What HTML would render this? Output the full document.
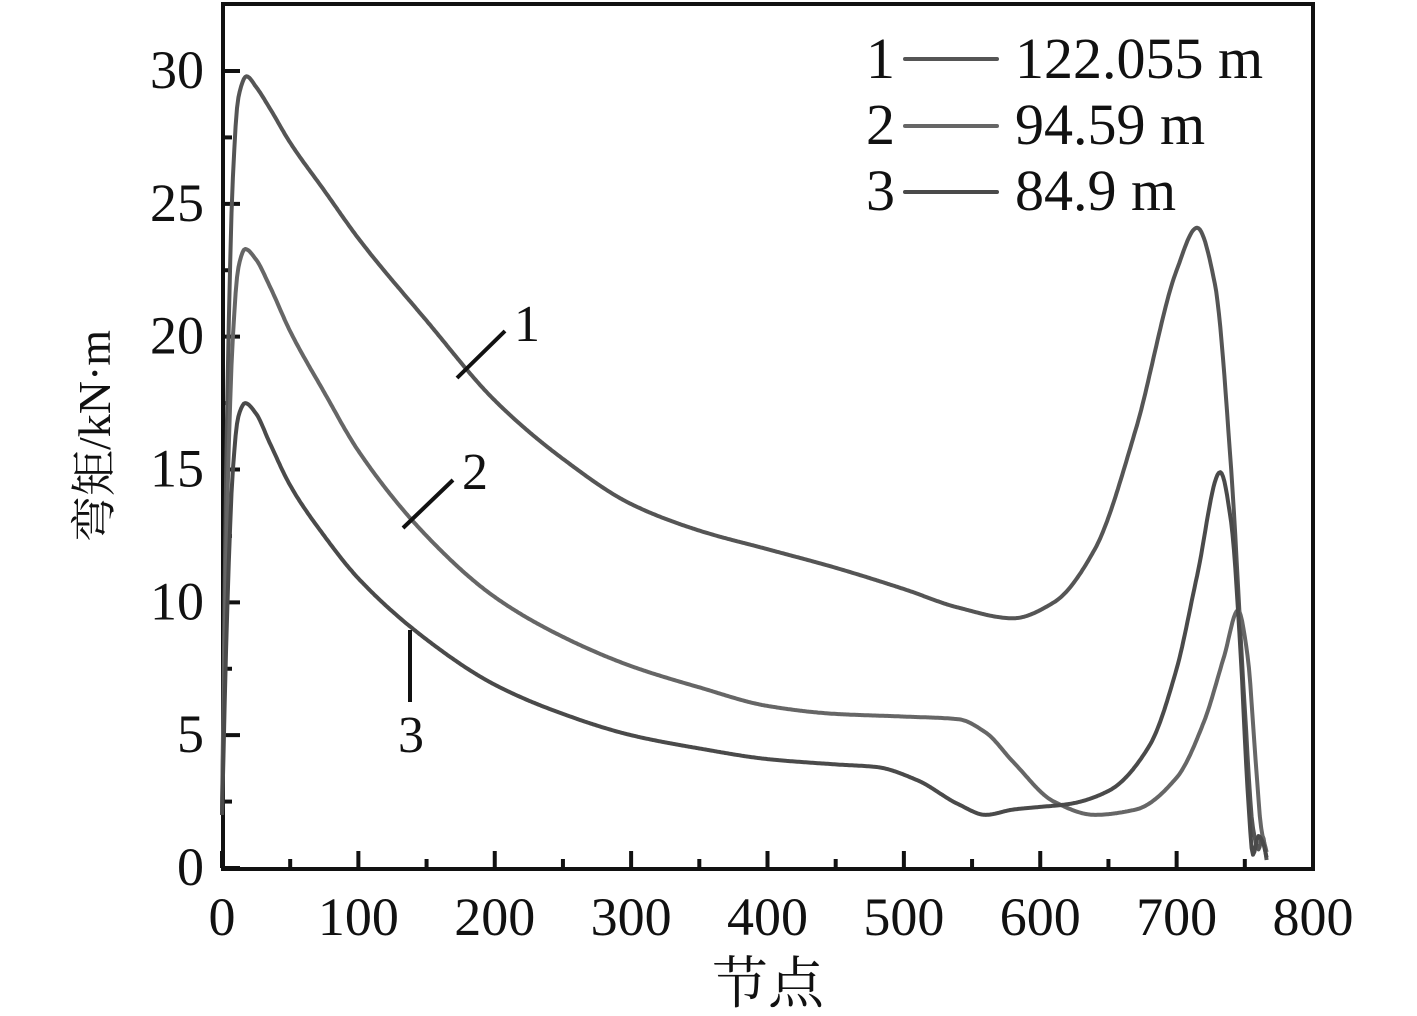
<!DOCTYPE html>
<html><head><meta charset="utf-8">
<style>
html,body{margin:0;padding:0;background:#fff;}
svg{display:block;font-family:"Liberation Serif","Noto Serif CJK SC",serif;}
</style></head>
<body>
<svg id="chart" width="1417" height="1016" viewBox="0 0 1417 1016" xmlns="http://www.w3.org/2000/svg">
<g id="axes"></g>
<g id="series"></g>
<g font-size="58" fill="#111">
  <text x="866" y="78">1</text>
  <line x1="905" y1="59" x2="997" y2="59" stroke="#555" stroke-width="4" stroke-linecap="round"/>
  <text x="1015" y="78">122.055 m</text>
  <text x="866" y="144">2</text>
  <line x1="905" y1="126" x2="997" y2="126" stroke="#666" stroke-width="4" stroke-linecap="round"/>
  <text x="1015" y="144">94.59 m</text>
  <text x="866" y="210">3</text>
  <line x1="905" y1="192" x2="997" y2="192" stroke="#4a4a4a" stroke-width="4" stroke-linecap="round"/>
  <text x="1015" y="210">84.9 m</text>
</g>
<g font-size="52" fill="#111" stroke="#111">
  <line x1="457" y1="378" x2="505" y2="331" stroke-width="4"/>
  <text x="514" y="341" stroke="none">1</text>
  <line x1="403" y1="528" x2="453" y2="480" stroke-width="4"/>
  <text x="462" y="489" stroke="none">2</text>
  <line x1="410" y1="630" x2="410" y2="702" stroke-width="4"/>
  <text x="398" y="752" stroke="none">3</text>
</g>
<text x="768" y="1003" font-size="56" text-anchor="middle" fill="#111">节点</text>
<text transform="translate(110,436) rotate(-90)" font-size="46" text-anchor="middle" fill="#111">弯矩/kN·m</text>
</svg>
<script>
const xTicks=[0,100,200,300,400,500,600,700,800];
const yTicks=[0,5,10,15,20,25,30];
const s1x=[0,4,8,12,18,25,35,50,75,100,150,200,250,300,350,400,450,500,540,580,610,640,670,700,715,728,740,750,756,760,763,766];
const s1y=[2,18,26,29,29.8,29.4,28.6,27.3,25.5,23.7,20.6,17.6,15.4,13.7,12.7,12.0,11.3,10.5,9.8,9.4,10.0,12.0,16.5,22.5,24.1,22,15,6,1.5,0.7,1.2,0.3];
const s2x=[0,4,8,12,17,25,35,50,75,100,150,200,250,300,350,400,450,500,540,560,580,610,640,670,700,720,735,745,752,758,762,766];
const s2y=[2,14,20,22.6,23.3,22.9,21.9,20.2,17.9,15.7,12.5,10.2,8.7,7.6,6.8,6.1,5.8,5.7,5.6,5.1,4.0,2.5,2.0,2.2,3.4,5.5,8.0,9.7,8,4,1.5,0.6];
const s3x=[0,4,8,12,17,25,35,50,75,100,150,200,250,300,350,400,450,480,510,540,560,580,600,620,650,680,700,715,732,740,747,752,756,760,763,766];
const s3y=[2,10,15,17,17.5,17.1,16.0,14.4,12.5,10.9,8.6,6.9,5.8,5.0,4.5,4.1,3.9,3.8,3.3,2.4,2.0,2.2,2.3,2.4,2.9,4.6,7.5,11,14.9,13,8,3,0.5,1.2,1.0,0.4];

const X0=222,X1=1313,Y0=868,Y1=71;
const xs=v=>X0+(v/800)*(X1-X0);
const ys=v=>Y0-(v/30)*(Y0-Y1);
const NS="http://www.w3.org/2000/svg";
const axes=document.getElementById('axes');
const series=document.getElementById('series');
function mk(tag,attrs,parent){const e=document.createElementNS(NS,tag);for(const k in attrs)e.setAttribute(k,attrs[k]);parent.appendChild(e);return e;}

const frame=mk('rect',{x:223,y:4,width:1090,height:865,fill:'none',stroke:'#111','stroke-width':4},axes);



for(let v=0;v<=800;v+=50){
  const major=v%100===0;
  const t=mk('line',{x1:xs(v),x2:xs(v),y1:868,y2:868-(major?17:9),stroke:'#111','stroke-width':4},axes);
  
  
}
xTicks.forEach(v=>{
  const t=mk('text',{x:xs(v),y:935,'font-size':54,'text-anchor':'middle',fill:'#111'},axes);
  t.textContent=v;
  
  
});
for(let v=0;v<=30;v+=2.5){
  const major=v%5===0;
  const t=mk('line',{x1:223,x2:223+(major?17:9),y1:ys(v),y2:ys(v),stroke:'#111','stroke-width':4},axes);
  
  
}
yTicks.forEach(v=>{
  const t=mk('text',{x:204,y:ys(v)+17,'font-size':54,'text-anchor':'end',fill:'#111'},axes);
  t.textContent=v;
  
  
});

// monotone cubic (Fritsch-Carlson) in data space, sampled densely
function pathFor(ax,ay){
  const n=ax.length,d=[],m=new Array(n);
  for(let i=0;i<n-1;i++)d.push((ay[i+1]-ay[i])/(ax[i+1]-ax[i]));
  m[0]=d[0];m[n-1]=d[n-2];
  for(let i=1;i<n-1;i++){
    if(d[i-1]*d[i]<=0)m[i]=0;
    else{const w1=2*(ax[i+1]-ax[i])+(ax[i]-ax[i-1]),w2=(ax[i+1]-ax[i])+2*(ax[i]-ax[i-1]);m[i]=(w1+w2)/(w1/d[i-1]+w2/d[i]);}
  }
  let s='M'+xs(ax[0]).toFixed(1)+','+ys(ay[0]).toFixed(1);
  for(let i=0;i<n-1;i++){
    const h=ax[i+1]-ax[i],steps=Math.max(4,Math.ceil(h));
    for(let k=1;k<=steps;k++){
      const t=k/steps,t2=t*t,t3=t2*t;
      const v=(2*t3-3*t2+1)*ay[i]+(t3-2*t2+t)*h*m[i]+(-2*t3+3*t2)*ay[i+1]+(t3-t2)*h*m[i+1];
      s+=' L'+xs(ax[i]+t*h).toFixed(1)+','+ys(v).toFixed(1);
    }
  }
  return s;
}
const c1=mk('path',{d:pathFor(s1x,s1y),fill:'none',stroke:'#555','stroke-width':4,'stroke-linejoin':'round'},series);


const c2=mk('path',{d:pathFor(s2x,s2y),fill:'none',stroke:'#666','stroke-width':4,'stroke-linejoin':'round'},series);


const c3=mk('path',{d:pathFor(s3x,s3y),fill:'none',stroke:'#4a4a4a','stroke-width':4,'stroke-linejoin':'round'},series);


</script>
</body></html>
